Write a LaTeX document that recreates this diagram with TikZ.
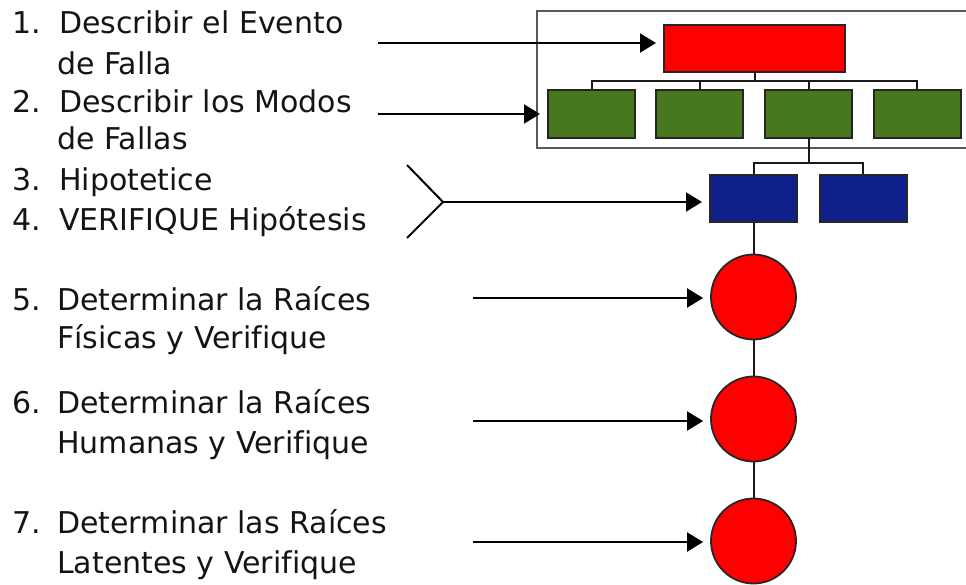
\documentclass[tikz,border=0pt]{standalone}
\usepackage{fontspec}
\setmainfont[Ligatures=NoCommon]{DejaVu Sans}
\usetikzlibrary{arrows.meta}
\definecolor{gbox}{RGB}{72,120,30}
\definecolor{bbox}{RGB}{16,32,138}
\definecolor{rbox}{RGB}{255,0,0}
\begin{document}
\begin{tikzpicture}[x=1pt,y=-1pt,
  txt/.style={anchor=base west,inner sep=0pt,font=\fontsize{30}{34}\selectfont,text=black!92},
  rbx/.style={draw=black!85,line width=2pt,fill=rbox,minimum width=181pt,minimum height=47pt,inner sep=0pt},
  gbx/.style={draw=black!85,line width=2pt,fill=gbox,minimum width=87pt,minimum height=48pt,inner sep=0pt},
  bbx/.style={draw=black!85,line width=2pt,fill=bbox,minimum width=87pt,minimum height=47pt,inner sep=0pt},
  circ/.style={circle,draw=black!85,line width=1.8pt,fill=rbox,minimum size=85pt,inner sep=0pt},
  conn/.style={line width=2pt,black!90},
  arr/.style={line width=2pt,black,-{Triangle[length=16pt,width=19pt]},shorten >=7pt},
  frame/.style={line width=2.6pt,black!65}]
\useasboundingbox (0,0) rectangle (966,584);
% frame
\draw[frame] (980,11) -- (537,11) -- (537,148) -- (980,148);
% boxes
\node[rbx] (r) at (754.5,48.5) {};
\node[gbx] (g1) at (591.5,114) {};
\node[gbx] (g2) at (699.5,114) {};
\node[gbx] (g3) at (808.5,114) {};
\node[gbx] (g4) at (917,114) {};
\node[bbx] (b1) at (753.5,198.5) {};
\node[bbx] (b2) at (863,198.5) {};
\node[circ] (c1) at (753.5,297) {};
\node[circ] (c2) at (753.5,419) {};
\node[circ] (c3) at (753.5,541) {};
% tree connectors
\coordinate (rb) at (754.5,81);
\draw[conn] (r.south) -- (rb);
\draw[conn] (g1.north) -- (g1.north |- rb) -- (g4.north |- rb) -- (g4.north);
\draw[conn] (g2.north) -- (g2.north |- rb);
\draw[conn] (g3.north) -- (g3.north |- rb);
\coordinate (gb) at (808.5,163);
\draw[conn] (g3.south) -- (gb);
\draw[conn] (b1.north) -- (b1.north |- gb) -- (b2.north |- gb) -- (b2.north);
\draw[conn] (b1.south) -- (c1.north);
\draw[conn] (c1.south) -- (c2.north);
\draw[conn] (c2.south) -- (c3.north);
% arrows
\coordinate (a1) at (378,43);
\coordinate (a2) at (378,114);
\coordinate (ch) at (443,202);
\coordinate (chu) at (407,165);
\coordinate (chd) at (407,238);
\coordinate (a5) at (473,298);
\coordinate (a6) at (473,421);
\coordinate (a7) at (473,542);
\draw[arr] (a1) -- (a1 -| r.west);
\draw[arr] (a2) -- (a2 -| g1.west);
\draw[line width=2pt] (chu) -- (ch) -- (chd);
\draw[arr] (ch) -- (ch -| b1.west);
\draw[arr] (a5) -- (a5 -| c1.west);
\draw[arr] (a6) -- (a6 -| c2.west);
\draw[arr] (a7) -- (a7 -| c3.west);
% texts
\node[txt] (n1) at (12,33) {1.};
\node[txt] (t1a) at (59,33) {Describir el Evento};
\node[txt] (t1b) at (57,74) {de Falla};
\node[txt] (n2) at (12,112) {2.};
\node[txt] (t2a) at (59,112) {Describir los Modos};
\node[txt] (t2b) at (57,149) {de Fallas};
\node[txt] (n3) at (12,190) {3.};
\node[txt] (t3) at (59,190) {Hipotetice};
\node[txt] (n4) at (12,230) {4.};
\node[txt] (t4) at (59,230) {VERIFIQUE Hipótesis};
\node[txt] (n5) at (12,310) {5.};
\node[txt] (t5a) at (57,310) {Determinar la Raíces};
\node[txt] (t5b) at (57,348) {Físicas y Verifique};
\node[txt] (n6) at (12,413) {6.};
\node[txt] (t6a) at (57,413) {Determinar la Raíces};
\node[txt] (t6b) at (57,453) {Humanas y Verifique};
\node[txt] (n7) at (12,533) {7.};
\node[txt] (t7a) at (57,533) {Determinar las Raíces};
\node[txt] (t7b) at (57,573) {Latentes y Verifique};
\end{tikzpicture}
\end{document}
